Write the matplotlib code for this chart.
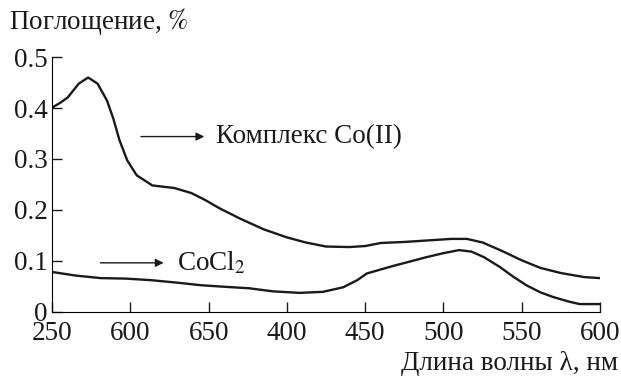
import matplotlib.pyplot as plt

plt.rcParams['font.family'] = ['Liberation Serif', 'DejaVu Serif']
plt.rcParams['mathtext.fontset'] = 'stix'

# wavelength, nm and absorbance
complex_x = [250, 255, 260, 267, 273, 279, 285, 289, 293, 298, 304, 314, 328, 339, 348, 357, 370, 385,
             400, 412, 425, 440, 450, 460, 475, 490, 505, 515, 525, 537, 550, 562, 575, 590, 600]
complex_y = [0.401, 0.41, 0.421, 0.448, 0.46, 0.448, 0.415, 0.38, 0.337, 0.297, 0.268, 0.248, 0.243, 0.233,
             0.219, 0.203, 0.183, 0.162, 0.146, 0.136, 0.128, 0.127, 0.129, 0.135, 0.137, 0.14, 0.143,
             0.143, 0.136, 0.12, 0.101, 0.086, 0.076, 0.068, 0.066]

cocl2_x = [250, 265, 281, 297, 313, 330, 345, 360, 376, 391, 408, 423, 436, 445, 451, 460, 468, 478,
           489, 500, 510, 518, 526, 536, 545, 553, 562, 570, 580, 587, 600]
cocl2_y = [0.078, 0.071, 0.066, 0.065, 0.062, 0.057, 0.052, 0.049, 0.046, 0.04, 0.037, 0.039, 0.048,
           0.062, 0.075, 0.083, 0.09, 0.098, 0.107, 0.115, 0.121, 0.118, 0.107, 0.088, 0.068, 0.052,
           0.038, 0.029, 0.02, 0.015, 0.015]

xticks = [250, 300, 350, 400, 450, 500, 550, 600]
xtick_labels = ['250', '600', '650', '400', '450', '500', '550', '600']
yticks = [0, 0.1, 0.2, 0.3, 0.4, 0.5]
ytick_labels = ['0', '0.1', '0.2', '0.3', '0.4', '0.5']

fs = 19.5
ink = '#1a1a1a'

fig = plt.figure(figsize=(6.21, 3.76), dpi=100)
ax = fig.add_axes([0.084, 0.171, 0.882, 0.677])

ax.plot(complex_x, complex_y, color=ink, lw=1.7)
ax.plot(cocl2_x, cocl2_y, color=ink, lw=1.7)

ax.set_xlim(250, 600)
ax.set_ylim(0, 0.5)
ax.set_xticks(xticks)
ax.set_xticklabels(xtick_labels)
ax.set_yticks(yticks)
ax.set_yticklabels(ytick_labels)
ax.tick_params(direction='in', length=7, width=1, labelsize=fs, colors=ink)
ax.tick_params(axis='x', pad=7)
ax.tick_params(axis='y', pad=3)

ax.spines['top'].set_visible(False)
ax.spines['right'].set_visible(False)

# arrows with labels
ax.annotate('', xy=(349, 0.344), xytext=(305, 0.344),
            arrowprops=dict(arrowstyle='-|>', color=ink, lw=1, mutation_scale=12))
ax.text(355, 0.344, 'Комплекс Co(II)', fontsize=fs, va='center', ha='left', color=ink)
ax.annotate('', xy=(323, 0.096), xytext=(279, 0.096),
            arrowprops=dict(arrowstyle='-|>', color=ink, lw=1, mutation_scale=12))
ax.text(330, 0.096, 'CoCl$_2$', fontsize=fs, va='center', ha='left', color=ink)

fig.text(0.014, 0.985, 'Поглощение, $\\mathit{\\%}$', fontsize=fs, va='top', ha='left', color=ink)
fig.text(0.995, 0.0, 'Длина волны λ, нм', fontsize=fs, va='bottom', ha='right', color=ink)

plt.savefig('out.png', dpi=100)
